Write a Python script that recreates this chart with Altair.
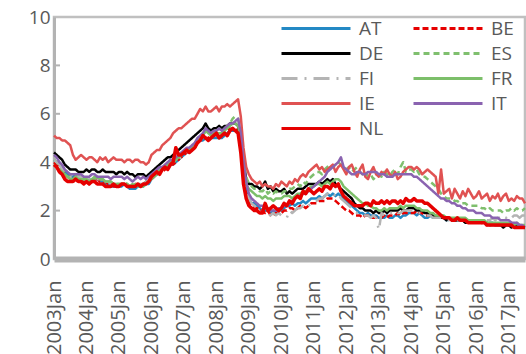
import altair as alt
import pandas as pd

names = ["AT", "BE", "DE", "ES", "FI", "FR", "IE", "IT", "NL"]
colors = ["#2389c4", "#e60000", "#000000", "#7fbf6e", "#b4b4b4", "#7cbf6a", "#e05252", "#8a63b0", "#e60000"]
dashes = [[1, 0], [6, 3], [1, 0], [6, 4], [16, 7, 2, 7], [1, 0], [1, 0], [1, 0], [1, 0]]
widths = [2.5, 2.5, 2.5, 2.5, 2.5, 2.5, 2.5, 2.5, 3.5]

start_year = 2003
year_ticks = list(range(0, 169, 12))

AT = [4.1, 4.0, 3.9, 3.8, 3.6, 3.5, 3.4, 3.4, 3.5, 3.4, 3.4, 3.3,
      3.3, 3.2, 3.2, 3.3, 3.3, 3.2, 3.2, 3.1, 3.1, 3.0, 3.0, 3.0,
      3.0, 3.0, 3.1, 3.0, 2.9, 2.9, 2.9, 3.0, 3.0, 3.0, 3.1, 3.1,
      3.3, 3.4, 3.5, 3.6, 3.7, 3.8, 3.9, 3.9, 3.9, 4.0, 4.1, 4.2,
      4.3, 4.4, 4.4, 4.5, 4.6, 4.8, 4.9, 4.9, 5.0, 4.9, 5.0, 5.0,
      5.0, 5.0, 5.0, 5.1, 5.2, 5.3, 5.3, 5.3, 5.2, 4.6, 3.5, 2.8,
      2.5, 2.3, 2.3, 2.2, 2.1, 2.0, 2.0, 2.0, 1.9, 2.0, 1.9, 2.0,
      2.0, 2.1, 2.2, 2.2, 2.3, 2.2, 2.3, 2.3, 2.4, 2.3, 2.4, 2.5,
      2.5, 2.5, 2.6, 2.5, 2.6, 2.7, 2.6, 2.7, 2.6, 2.7, 2.6, 2.5,
      2.4, 2.3, 2.2, 2.1, 2.0, 1.9, 1.9, 1.8, 1.9, 1.8, 1.8, 1.8,
      1.7, 1.7, 1.7, 1.8, 1.7, 1.7, 1.8, 1.8, 1.7, 1.8, 1.8, 1.9,
      1.9, 1.9, 1.8, 1.9, 1.8, 1.7, 1.7, 1.8, 1.7, 1.7, 1.7, 1.7,
      1.7, 1.6, 1.7, 1.6, 1.6, 1.6, 1.6, 1.6, 1.6, 1.5, 1.5, 1.5,
      1.5, 1.5, 1.5, 1.5, 1.4, 1.5, 1.5, 1.4, 1.4, 1.4, 1.4, 1.4,
      1.4, 1.4, 1.4, 1.4, 1.4, 1.3, 1.3]

BE = [4.0, 3.9, 3.8, 3.7, 3.5, 3.4, 3.3, 3.3, 3.4, 3.3, 3.3, 3.2,
      3.2, 3.1, 3.2, 3.3, 3.3, 3.2, 3.2, 3.2, 3.1, 3.1, 3.0, 3.0,
      3.0, 3.1, 3.1, 3.0, 3.0, 3.0, 3.1, 3.1, 3.0, 3.1, 3.2, 3.2,
      3.3, 3.4, 3.5, 3.6, 3.6, 3.7, 3.8, 3.9, 3.9, 4.0, 4.1, 4.2,
      4.3, 4.4, 4.5, 4.6, 4.6, 4.8, 4.9, 5.0, 5.0, 5.0, 5.1, 5.1,
      5.1, 5.1, 5.1, 5.2, 5.3, 5.4, 5.4, 5.4, 5.3, 4.6, 3.4, 2.7,
      2.4, 2.2, 2.1, 2.1, 2.0, 2.0, 1.9, 2.0, 1.8, 1.8, 1.9, 1.9,
      1.9, 2.0, 2.0, 2.1, 2.1, 2.0, 2.1, 2.2, 2.2, 2.1, 2.2, 2.3,
      2.3, 2.3, 2.4, 2.4, 2.4, 2.5, 2.5, 2.5, 2.4, 2.3, 2.2, 2.1,
      2.0, 2.0, 1.9, 1.8, 1.8, 1.8, 1.7, 1.8, 1.8, 1.7, 1.7, 1.7,
      1.7, 1.7, 1.8, 1.7, 1.8, 1.8, 1.8, 1.9, 1.8, 1.9, 1.9, 1.9,
      1.9, 1.9, 2.0, 1.9, 1.9, 1.8, 1.8, 1.8, 1.8, 1.7, 1.7, 1.7,
      1.7, 1.7, 1.6, 1.6, 1.6, 1.6, 1.6, 1.6, 1.5, 1.5, 1.5, 1.5,
      1.5, 1.5, 1.5, 1.4, 1.4, 1.4, 1.4, 1.4, 1.4, 1.4, 1.4, 1.4,
      1.4, 1.4, 1.4, 1.3, 1.3, 1.3, 1.3]

DE = [4.4, 4.3, 4.2, 4.1, 3.9, 3.8, 3.7, 3.7, 3.7, 3.6, 3.6, 3.6,
      3.7, 3.6, 3.7, 3.7, 3.6, 3.6, 3.7, 3.6, 3.6, 3.6, 3.6, 3.5,
      3.6, 3.6, 3.5, 3.6, 3.5, 3.5, 3.4, 3.5, 3.5, 3.5, 3.4, 3.5,
      3.6, 3.7, 3.8, 3.9, 4.0, 4.1, 4.2, 4.2, 4.3, 4.4, 4.5, 4.6,
      4.7, 4.8, 4.9, 5.0, 5.1, 5.2, 5.3, 5.4, 5.6, 5.4, 5.3, 5.4,
      5.4, 5.5, 5.4, 5.5, 5.5, 5.6, 5.6, 5.6, 5.5, 5.0, 4.0, 3.3,
      3.1, 3.1, 3.0, 3.0, 2.9, 3.0, 3.2, 2.9, 3.0, 2.8, 2.9, 2.8,
      2.8, 2.9, 2.7, 2.8, 2.7, 2.8, 2.9, 2.9, 2.9, 3.0, 3.1, 3.1,
      3.1, 3.1, 3.2, 3.1, 3.2, 3.3, 3.2, 3.3, 3.1, 3.0, 2.9, 2.8,
      2.7, 2.6, 2.5, 2.3, 2.2, 2.1, 2.1, 2.0, 2.0, 2.0, 1.9, 2.0,
      1.9, 1.9, 2.0, 1.9, 2.0, 2.0, 2.0, 2.0, 2.1, 2.0, 2.0, 2.1,
      2.1, 2.1, 2.0, 2.0, 2.0, 1.9, 1.9, 1.8, 1.8, 1.8, 1.7, 1.7,
      1.7, 1.6, 1.7, 1.6, 1.6, 1.6, 1.6, 1.6, 1.5, 1.5, 1.6, 1.5,
      1.5, 1.5, 1.5, 1.5, 1.5, 1.4, 1.4, 1.4, 1.4, 1.4, 1.3, 1.4,
      1.4, 1.3, 1.4, 1.3, 1.3, 1.3, 1.3]

ES = [4.1, 4.0, 3.8, 3.7, 3.5, 3.4, 3.4, 3.4, 3.5, 3.4, 3.4, 3.3,
      3.3, 3.2, 3.3, 3.4, 3.3, 3.3, 3.3, 3.2, 3.2, 3.2, 3.1, 3.1,
      3.1, 3.1, 3.2, 3.1, 3.0, 3.0, 3.1, 3.0, 3.0, 3.1, 3.2, 3.2,
      3.4, 3.5, 3.6, 3.7, 3.8, 3.8, 3.9, 4.0, 4.0, 4.1, 4.2, 4.3,
      4.4, 4.5, 4.5, 4.6, 4.7, 4.8, 5.0, 5.1, 5.3, 5.2, 5.2, 5.3,
      5.3, 5.4, 5.3, 5.4, 5.5, 5.6, 5.8, 5.9, 5.8, 5.3, 4.0, 3.4,
      3.1, 3.0, 2.9, 2.9, 2.8, 2.8, 2.9, 2.7, 2.8, 2.7, 2.8, 2.7,
      2.7, 2.8, 2.8, 2.9, 2.9, 3.0, 3.1, 3.0, 3.2, 3.1, 3.3, 3.4,
      3.5, 3.6, 3.6, 3.5, 3.7, 3.8, 3.9, 3.8, 3.9, 4.0, 3.9, 3.8,
      3.7, 3.8, 3.6, 3.7, 3.8, 3.6, 3.5, 3.6, 3.4, 3.5, 3.3, 3.4,
      3.5, 3.4, 3.6, 3.5, 3.4, 3.6, 3.7, 3.5, 3.8, 4.0, 3.6, 3.7,
      3.7, 3.6, 3.7, 3.5, 3.4, 3.4, 3.3, 3.2, 3.1, 3.0, 2.9, 2.7,
      2.6, 2.5, 2.5, 2.5, 2.4, 2.4, 2.3, 2.3, 2.3, 2.2, 2.2, 2.2,
      2.2, 2.2, 2.1, 2.1, 2.0, 2.1, 2.0, 2.0, 2.0, 2.0, 1.9, 2.0,
      2.0, 2.1, 2.0, 2.1, 2.0, 2.0, 2.1]

FI = [4.1, 4.0, 3.9, 3.7, 3.6, 3.5, 3.4, 3.4, 3.5, 3.4, 3.4, 3.3,
      3.3, 3.3, 3.3, 3.4, 3.3, 3.3, 3.3, 3.2, 3.2, 3.1, 3.1, 3.1,
      3.1, 3.1, 3.1, 3.1, 3.0, 3.0, 3.0, 3.1, 3.1, 3.1, 3.2, 3.2,
      3.3, 3.4, 3.5, 3.6, 3.7, 3.8, 3.9, 3.9, 4.0, 4.0, 4.1, 4.2,
      4.3, 4.4, 4.5, 4.6, 4.7, 4.8, 4.9, 5.0, 5.1, 5.0, 5.0, 5.1,
      5.1, 5.1, 5.1, 5.2, 5.3, 5.4, 5.4, 5.4, 5.3, 4.7, 3.6, 2.8,
      2.5, 2.3, 2.2, 2.1, 2.0, 2.0, 1.9, 1.9, 1.8, 1.9, 1.8, 1.9,
      1.8, 1.8, 1.7, 2.0, 1.9, 2.0, 2.1, 2.1, 2.2, 2.1, 2.2, 2.3,
      2.4, 2.4, 2.5, 2.5, 2.6, 2.7, 2.6, 2.7, 2.6, 2.7, 2.5, 2.4,
      2.3, 2.2, 2.1, 2.0, 1.9, 1.9, 1.8, 1.8, 1.8, 1.7, 1.8, 1.7,
      1.2, 1.9, 1.8, 1.9, 1.9, 1.9, 2.0, 1.9, 1.9, 2.0, 2.0, 2.0,
      2.0, 2.0, 1.9, 1.9, 1.9, 1.8, 1.8, 1.8, 1.7, 1.7, 1.7, 1.7,
      1.6, 1.6, 1.6, 1.6, 1.6, 1.6, 1.6, 1.6, 1.6, 1.5, 1.5, 1.6,
      1.6, 1.6, 1.6, 1.6, 1.6, 1.6, 1.7, 1.6, 1.7, 1.7, 1.8, 1.7,
      1.8, 1.7, 1.8, 1.8, 1.7, 1.8, 1.8]

FR = [3.9, 3.8, 3.7, 3.6, 3.5, 3.4, 3.3, 3.3, 3.4, 3.3, 3.3, 3.3,
      3.3, 3.2, 3.3, 3.3, 3.4, 3.3, 3.3, 3.2, 3.2, 3.2, 3.1, 3.1,
      3.1, 3.1, 3.1, 3.1, 3.0, 3.1, 3.0, 3.1, 3.0, 3.0, 3.1, 3.2,
      3.3, 3.4, 3.5, 3.6, 3.7, 3.8, 3.9, 4.0, 4.0, 4.1, 4.2, 4.3,
      4.4, 4.5, 4.5, 4.6, 4.7, 4.9, 5.0, 5.1, 5.3, 5.2, 5.1, 5.2,
      5.2, 5.2, 5.2, 5.3, 5.4, 5.5, 5.6, 5.6, 5.5, 5.0, 3.8, 3.1,
      2.9, 2.8, 2.7, 2.6, 2.6, 2.5, 2.6, 2.5, 2.5, 2.4, 2.5, 2.5,
      2.5, 2.6, 2.6, 2.6, 2.5, 2.6, 2.7, 2.7, 2.8, 2.8, 2.9, 3.0,
      3.0, 3.1, 3.1, 3.0, 3.1, 3.2, 3.1, 3.2, 3.3, 3.3, 3.2, 3.0,
      2.9, 2.8, 2.7, 2.6, 2.5, 2.4, 2.3, 2.3, 2.2, 2.2, 2.1, 2.1,
      2.0, 2.0, 2.1, 2.0, 2.1, 2.1, 2.1, 2.1, 2.2, 2.1, 2.2, 2.2,
      2.2, 2.2, 2.1, 2.1, 2.0, 2.0, 2.0, 1.9, 1.9, 1.8, 1.8, 1.8,
      1.8, 1.7, 1.7, 1.7, 1.7, 1.7, 1.7, 1.7, 1.7, 1.6, 1.6, 1.6,
      1.6, 1.6, 1.6, 1.6, 1.5, 1.5, 1.5, 1.5, 1.5, 1.5, 1.5, 1.5,
      1.5, 1.5, 1.4, 1.5, 1.4, 1.4, 1.4]

IE = [5.1, 5.0, 5.0, 4.9, 4.9, 4.8, 4.7, 4.3, 4.1, 4.2, 4.3, 4.2,
      4.1, 4.2, 4.2, 4.1, 4.0, 4.2, 4.1, 4.2, 4.0, 4.1, 4.2, 4.1,
      4.1, 4.1, 4.0, 4.1, 4.1, 4.0, 4.1, 4.1, 4.0, 4.0, 3.9, 4.0,
      4.3, 4.4, 4.5, 4.5, 4.7, 4.8, 4.9, 5.0, 5.2, 5.3, 5.4, 5.4,
      5.5, 5.6, 5.7, 5.8, 5.8, 6.0, 6.2, 6.1, 6.3, 6.1, 6.1, 6.2,
      6.3, 6.1, 6.3, 6.3, 6.4, 6.3, 6.4, 6.5, 6.6, 5.9, 4.6, 3.8,
      3.5, 3.3, 3.2, 3.1, 3.2, 3.0, 3.1, 3.0, 3.0, 2.9, 3.1, 3.0,
      3.2, 3.1, 3.0, 3.2, 3.1, 3.3, 3.2, 3.4, 3.5, 3.4, 3.6, 3.7,
      3.8, 3.9, 3.7, 3.8, 3.6, 3.7, 3.8, 3.9, 3.6, 3.8, 3.9, 3.7,
      3.5, 3.8, 3.9, 3.6, 3.4, 3.7, 3.9, 3.4, 3.3, 3.6, 3.8, 3.5,
      3.4, 3.6, 3.5, 3.7, 3.5, 3.4, 3.6, 3.3, 3.4, 3.6, 3.7, 3.8,
      3.8, 3.7, 3.8, 3.7, 3.5, 3.6, 3.7, 3.6, 3.5, 3.4, 2.7, 3.7,
      2.7, 2.8, 2.9, 2.5, 2.9, 2.7, 2.5, 2.8, 2.6, 2.9, 2.7, 2.5,
      2.6, 2.8, 2.5, 2.6, 2.7, 2.4, 2.6, 2.5, 2.7, 2.4, 2.6, 2.7,
      2.4, 2.5, 2.4, 2.6, 2.5, 2.5, 2.3]

IT = [4.3, 4.2, 4.0, 3.9, 3.7, 3.6, 3.5, 3.5, 3.5, 3.5, 3.5, 3.4,
      3.4, 3.4, 3.5, 3.5, 3.4, 3.4, 3.4, 3.4, 3.4, 3.3, 3.4, 3.4,
      3.4, 3.4, 3.3, 3.4, 3.3, 3.2, 3.3, 3.4, 3.3, 3.4, 3.3, 3.4,
      3.5, 3.6, 3.7, 3.8, 3.8, 3.9, 4.0, 4.1, 4.1, 4.2, 4.3, 4.4,
      4.5, 4.6, 4.6, 4.7, 4.8, 5.0, 5.1, 5.2, 5.4, 5.3, 5.2, 5.3,
      5.3, 5.4, 5.3, 5.4, 5.5, 5.6, 5.6, 5.7, 5.8, 5.2, 4.0, 3.2,
      2.7, 2.5, 2.4, 2.3, 2.2, 2.2, 2.1, 2.1, 2.0, 2.0, 2.0, 2.1,
      2.1, 2.2, 2.2, 2.3, 2.4, 2.5, 2.6, 2.6, 2.7, 2.7, 2.8, 2.9,
      3.0, 3.1, 3.2, 3.3, 3.4, 3.6, 3.7, 3.8, 3.9, 4.0, 4.2, 3.8,
      3.7, 3.6, 3.5, 3.5, 3.6, 3.6, 3.5, 3.5, 3.6, 3.6, 3.6, 3.6,
      3.5, 3.5, 3.5, 3.4, 3.4, 3.4, 3.5, 3.5, 3.5, 3.5, 3.5, 3.5,
      3.5, 3.4, 3.4, 3.3, 3.2, 3.1, 3.0, 2.9, 2.8, 2.7, 2.6, 2.5,
      2.5, 2.4, 2.4, 2.3, 2.3, 2.2, 2.2, 2.1, 2.1, 2.0, 2.0, 2.0,
      1.9, 1.9, 1.9, 1.8, 1.8, 1.8, 1.7, 1.7, 1.7, 1.6, 1.6, 1.6,
      1.6, 1.5, 1.5, 1.5, 1.4, 1.4, 1.3]

NL = [3.9, 3.8, 3.6, 3.5, 3.3, 3.2, 3.2, 3.2, 3.3, 3.2, 3.2, 3.1,
      3.2, 3.1, 3.2, 3.2, 3.1, 3.1, 3.1, 3.0, 3.0, 3.0, 3.1, 3.0,
      3.0, 3.1, 3.1, 3.0, 3.0, 3.0, 3.0, 3.1, 3.0, 3.1, 3.1, 3.2,
      3.4, 3.5, 3.6, 3.5, 3.7, 3.8, 3.7, 3.9, 4.0, 4.6, 4.3, 4.3,
      4.4, 4.5, 4.4, 4.5, 4.6, 4.8, 4.9, 5.1, 5.0, 4.9, 5.0, 5.1,
      5.2, 5.0, 5.1, 5.2, 5.1, 5.3, 5.4, 5.3, 5.2, 4.4, 3.1, 2.5,
      2.2, 2.1, 2.0, 2.0, 1.9, 1.9, 2.3, 2.0, 2.1, 2.2, 2.1, 2.0,
      2.1, 2.3, 2.2, 2.4, 2.3, 2.5, 2.6, 2.5, 2.8, 2.7, 2.9, 2.8,
      2.7, 2.8, 2.9, 2.8, 3.0, 3.0, 2.9, 3.1, 3.0, 3.1, 2.8, 2.6,
      2.5, 2.4, 2.3, 2.2, 2.2, 2.2, 2.2, 2.3, 2.3, 2.2, 2.4, 2.3,
      2.3, 2.4, 2.3, 2.4, 2.3, 2.4, 2.4, 2.3, 2.4, 2.3, 2.5, 2.4,
      2.4, 2.5, 2.4, 2.4, 2.4, 2.3, 2.3, 2.2, 2.1, 2.0, 1.9, 1.8,
      1.7, 1.7, 1.7, 1.6, 1.6, 1.7, 1.6, 1.6, 1.6, 1.5, 1.5, 1.5,
      1.5, 1.5, 1.5, 1.5, 1.4, 1.4, 1.4, 1.4, 1.4, 1.4, 1.4, 1.4,
      1.4, 1.4, 1.3, 1.3, 1.3, 1.3, 1.3]

series = {"AT": AT, "BE": BE, "DE": DE, "ES": ES, "FI": FI,
          "FR": FR, "IE": IE, "IT": IT, "NL": NL}

rows = []
for name in names:
    for i, v in enumerate(series[name]):
        rows.append({"s": name, "m": i, "v": v})
df = pd.DataFrame(rows)
n_months = max(len(v) for v in series.values())

FONT = "Open Sans"
GREY = "#595959"

x_enc = alt.X("m:Q", scale=alt.Scale(domain=[0, n_months - 1], nice=False, zero=False),
              axis=alt.Axis(values=year_ticks, title=None, grid=False, labelAngle=270,
                            labelExpr=f"toString({start_year} + datum.value/12) + 'Jan'",
                            labelFontSize=20, labelColor=GREY, labelFont=FONT,
                            labelPadding=21, ticks=False, domainColor="#b3b3b3",
                            domainWidth=6, labelOverlap=False, labelFlush=False))
y_enc = alt.Y("v:Q", scale=alt.Scale(domain=[0, 10], nice=False),
              axis=alt.Axis(values=[0, 2, 4, 6, 8, 10], title=None, grid=False,
                            labelFontSize=19, labelColor=GREY, labelFont=FONT,
                            labelPadding=4, ticks=False, domainColor="#b3b3b3",
                            domainWidth=3))
color_enc = alt.Color("s:N", scale=alt.Scale(domain=names, range=colors), title=None,
                      legend=alt.Legend(orient="none", legendX=226, legendY=-1, columns=2,
                                        direction="horizontal",
                                        symbolType="stroke", symbolSize=4761,
                                        symbolStrokeWidth=3, labelFontSize=19,
                                        labelColor=GREY, labelFont=FONT, labelOffset=7,
                                        clipHeight=25, rowPadding=0,
                                        columnPadding=28, padding=0))
dash_enc = alt.StrokeDash("s:N", scale=alt.Scale(domain=names, range=dashes), title=None)

layers = []
for name, w in zip(names, widths):
    layers.append(
        alt.Chart(df).transform_filter(alt.datum.s == name)
        .mark_line(strokeWidth=w, strokeJoin="round")
        .encode(x=x_enc, y=y_enc, color=color_enc, strokeDash=dash_enc)
    )

ticks_df = pd.DataFrame({"t": [2, 4, 6, 8]})
inner_ticks = alt.Chart(ticks_df).mark_rule(color="#b3b3b3", strokeWidth=2).encode(
    y=alt.Y("t:Q", scale=alt.Scale(domain=[0, 10], nice=False)),
    x=alt.value(0), x2=alt.value(6))

chart = alt.layer(inner_ticks, *layers).properties(
    width=471, height=242,
    autosize=alt.AutoSizeParams(type="none"),
    padding={"left": 54, "top": 17, "right": 1, "bottom": 95},
).configure_view(stroke="#c0c0c0", strokeWidth=2.5)

chart.save("out.html", embed_options={"renderer": "svg", "actions": False})
